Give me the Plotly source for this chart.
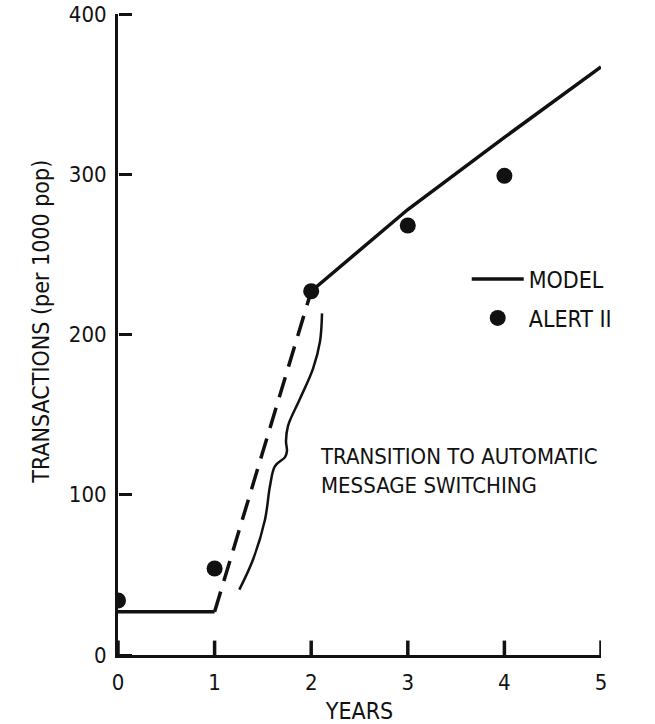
import plotly.graph_objects as go

# ---- data ----
years = [0, 1, 2, 3, 4, 5]
model_values = [27, 27, 227, 278, 323, 367]
alert_years = [0, 1, 2, 3, 4]
alert_values = [34, 54, 227, 268, 299]
x_ticks = [0, 1, 2, 3, 4, 5]
y_ticks = [0, 100, 200, 300, 400]
x_range = [0, 5]
y_range = [0, 400]
# brace marking the transition period (years, transactions)
brace_x = [1.256, 1.398, 1.522, 1.573, 1.625, 1.729, 1.749, 1.739, 1.760, 1.884, 2.019, 2.091, 2.112]
brace_y = [40.8, 59.6, 84.6, 105.3, 117.9, 123.5, 127.3, 133.5, 143.0, 159.9, 178.7, 195.6, 213.2]

FONT = "DejaVu Sans Condensed, Liberation Sans Narrow, Arial Narrow, sans-serif"
BLACK = "#111111"
TICK_LEN_Y = 9  # length of the upward x tick marks, in y units (about 14 px)

fig = go.Figure()

# model: solid before year 1 and after year 2
solid_x = years[0:2] + [None] + years[2:]
solid_y = model_values[0:2] + [None] + model_values[2:]
fig.add_trace(go.Scatter(x=solid_x, y=solid_y, mode="lines", name="MODEL", legendgroup="m",
                         line=dict(color=BLACK, width=3.5), connectgaps=False))
# model: dashed transition between year 1 and 2
fig.add_trace(go.Scatter(x=years[1:3], y=model_values[1:3], mode="lines",
                         line=dict(color=BLACK, width=3.5, dash="21px,11px"),
                         showlegend=False))
# brace (drawn against the overlay y axis, which shares the same range)
fig.add_trace(go.Scatter(x=brace_x, y=brace_y, mode="lines", showlegend=False,
                         yaxis="y2",
                         line=dict(color=BLACK, width=2.5, shape="spline")))
# Alert II observations
fig.add_trace(go.Scatter(x=alert_years, y=alert_values, mode="markers", name="ALERT II",
                         legendgroup="a", marker=dict(color=BLACK, size=16)))

# x tick marks pointing up into the plot, built from the tick list
tick_x, tick_y = [], []
for t in x_ticks:
    tick_x += [t, t, None]
    tick_y += [y_range[0], y_range[0] + TICK_LEN_Y, None]
fig.add_trace(go.Scatter(x=tick_x, y=tick_y, mode="lines", showlegend=False,
                         hoverinfo="skip", line=dict(color=BLACK, width=3.5),
                         cliponaxis=False))

fig.add_annotation(x=2.07, y=115, xref="x", yref="y", xanchor="left", yanchor="middle",
                   text="TRANSITION TO AUTOMATIC<br>MESSAGE SWITCHING", align="left",
                   showarrow=False, font=dict(family=FONT, size=22, color=BLACK))

fig.add_annotation(x=0, y=0.52, xref="paper", yref="paper", xshift=-92,
                   text="TRANSACTIONS (per 1000 pop)", textangle=-90, showarrow=False,
                   font=dict(family=FONT, size=23, color=BLACK))

fig.update_layout(
    width=655, height=724,
    margin=dict(l=118, r=54, t=14, b=69),
    paper_bgcolor="white", plot_bgcolor="white",
    font=dict(family=FONT, size=22, color=BLACK),
    legend=dict(x=0.722, y=0.62, xanchor="left", yanchor="top", itemwidth=52,
                tracegroupgap=6,
                bgcolor="rgba(0,0,0,0)", font=dict(family=FONT, size=23, color=BLACK)),
    xaxis=dict(range=x_range, tickvals=x_ticks, ticks="", showline=True,
               linecolor=BLACK, linewidth=3, showgrid=False, zeroline=False,
               tickfont=dict(size=22), automargin=False, ticklabelstandoff=6,
               title=dict(text="YEARS", font=dict(family=FONT, size=23), standoff=10)),
    yaxis=dict(range=y_range, tickvals=y_ticks, ticks="", showline=True,
               linecolor=BLACK, linewidth=3, showgrid=False, zeroline=False,
               tickfont=dict(size=22), automargin=False, ticklabelstandoff=4),
    # overlay y axis that carries the tick marks pointing into the plot
    yaxis2=dict(range=y_range, tickvals=y_ticks, overlaying="y", side="right",
                anchor="free", position=0, ticks="outside", ticklen=13, tickwidth=3,
                tickcolor=BLACK, showticklabels=False, showline=False, showgrid=False,
                zeroline=False, automargin=False),
)

fig.write_html("out.html")
